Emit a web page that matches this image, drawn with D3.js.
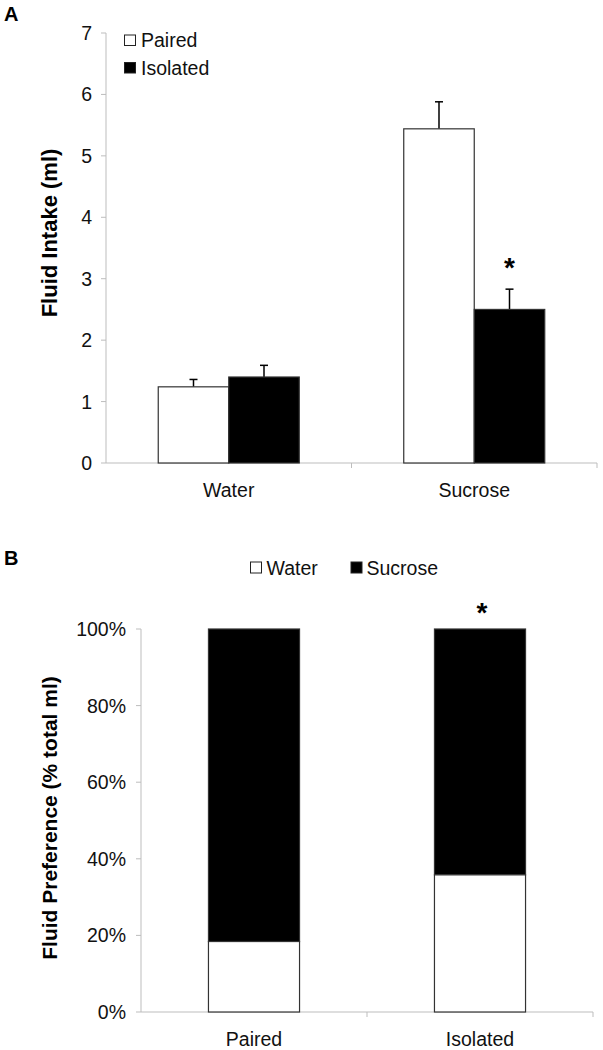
<!DOCTYPE html>
<html><head><meta charset="utf-8">
<script src="https://cdn.jsdelivr.net/npm/d3@7"></script>
<style>body{margin:0;background:#fff}svg{display:block;font-family:"Liberation Sans",Arial,sans-serif}</style>
</head><body><svg id="c" width="603" height="1050"></svg>
<script>
// Panel A data
const categoriesA = ["Water", "Sucrose"];
const seriesA = ["Paired", "Isolated"];
const pairedMean = [1.24, 5.44];
const pairedErr = [0.12, 0.44];
const isolatedMean = [1.40, 2.50];
const isolatedErr = [0.19, 0.33];
const ticksA = [0, 1, 2, 3, 4, 5, 6, 7];
// Panel B data
const groupsB = ["Paired", "Isolated"];
const waterPct = [0.184, 0.358];
const sucrosePct = [0.816, 0.642];
const ticksB = [0, 0.2, 0.4, 0.6, 0.8, 1.0];

const svg = d3.select("#c");
const axisColor = "#bdbdbd";
const barStroke = "#333";
const fs = 19.5;

// ---------- Panel A ----------
const yA = d3.scaleLinear().domain([0, 7]).range([463, 33]);
const x0A = d3.scaleBand().domain(categoriesA).range([106, 597]).padding(0);
const x1A = d3.scaleBand().domain(seriesA).range([0, x0A.bandwidth()]).paddingInner(0).paddingOuter(0.741);
const gA = svg.append("g");
svg.append("text").attr("x", 4).attr("y", 21).attr("font-weight", "bold").attr("font-size", 20).text("A");

gA.append("line").attr("x1", 106).attr("x2", 106).attr("y1", yA(7)).attr("y2", yA(0)).attr("stroke", axisColor);
gA.append("line").attr("x1", 106).attr("x2", 597).attr("y1", yA(0)).attr("y2", yA(0)).attr("stroke", axisColor);
ticksA.forEach(t => {
  gA.append("line").attr("x1", 101).attr("x2", 106).attr("y1", yA(t)).attr("y2", yA(t)).attr("stroke", axisColor);
  gA.append("text").attr("x", 92).attr("y", yA(t)).attr("dy", "0.36em").attr("text-anchor", "end").attr("font-size", fs).attr("fill", "#111").text(t);
});
[x0A.range()[0] + x0A.step(), x0A.range()[1]].forEach(x => {
  gA.append("line").attr("x1", x).attr("x2", x).attr("y1", yA(0)).attr("y2", yA(0) + 5).attr("stroke", axisColor);
});
categoriesA.forEach(c => {
  gA.append("text").attr("x", x0A(c) + x0A.bandwidth() / 2).attr("y", 497).attr("text-anchor", "middle").attr("font-size", fs).attr("fill", "#111").text(c);
});
gA.append("text").attr("transform", "translate(57,233) rotate(-90)").attr("text-anchor", "middle").attr("font-weight", "bold").attr("font-size", 22).text("Fluid Intake (ml)");

const dataA = [];
categoriesA.forEach((c, i) => {
  dataA.push({cat: c, ser: "Paired", v: pairedMean[i], e: pairedErr[i], fill: "#fff"});
  dataA.push({cat: c, ser: "Isolated", v: isolatedMean[i], e: isolatedErr[i], fill: "#000"});
});
dataA.forEach(d => {
  const x = x0A(d.cat) + x1A(d.ser);
  const w = x1A.bandwidth();
  const cx = x + w / 2;
  gA.append("line").attr("x1", cx).attr("x2", cx).attr("y1", yA(d.v)).attr("y2", yA(d.v + d.e)).attr("stroke", "#000").attr("stroke-width", 1.5);
  gA.append("line").attr("x1", cx - 4).attr("x2", cx + 4).attr("y1", yA(d.v + d.e)).attr("y2", yA(d.v + d.e)).attr("stroke", "#000").attr("stroke-width", 1.5);
  gA.append("rect").attr("x", x).attr("y", yA(d.v)).attr("width", w).attr("height", yA(0) - yA(d.v)).attr("fill", d.fill).attr("stroke", barStroke).attr("stroke-width", 1.2);
});
{
  const x = x0A("Sucrose") + x1A("Isolated") + x1A.bandwidth() / 2;
  gA.append("text").attr("x", x).attr("y", yA(2.5 + 0.33) - 12).attr("text-anchor", "middle").attr("font-size", 28).attr("font-weight", "bold").text("*");
}
seriesA.forEach((s, i) => {
  const y = 35 + i * 27.5;
  gA.append("rect").attr("x", 124.5).attr("y", y).attr("width", 11).attr("height", 10.5).attr("fill", i === 0 ? "#fff" : "#000").attr("stroke", "#222").attr("stroke-width", 1);
  gA.append("text").attr("x", 141).attr("y", y + 12).attr("font-size", fs).attr("fill", "#111").text(s);
});

// ---------- Panel B ----------
const yB = d3.scaleLinear().domain([0, 1]).range([1012, 629]);
const xB = d3.scaleBand().domain(groupsB).range([141, 593]).padding(0);
const gB = svg.append("g");
svg.append("text").attr("x", 4).attr("y", 565).attr("font-weight", "bold").attr("font-size", 20).text("B");
gB.append("line").attr("x1", 141).attr("x2", 141).attr("y1", yB(1)).attr("y2", yB(0)).attr("stroke", axisColor);
gB.append("line").attr("x1", 141).attr("x2", 593).attr("y1", yB(0)).attr("y2", yB(0)).attr("stroke", axisColor);
ticksB.forEach(t => {
  gB.append("line").attr("x1", 136).attr("x2", 141).attr("y1", yB(t)).attr("y2", yB(t)).attr("stroke", axisColor);
  gB.append("text").attr("x", 126).attr("y", yB(t)).attr("dy", "0.36em").attr("text-anchor", "end").attr("font-size", fs).attr("fill", "#111").text(d3.format(".0%")(t));
});
[141 + xB.step(), 593].forEach(x => {
  gB.append("line").attr("x1", x).attr("x2", x).attr("y1", yB(0)).attr("y2", yB(0) + 5).attr("stroke", axisColor);
});
groupsB.forEach(g => {
  gB.append("text").attr("x", xB(g) + xB.bandwidth() / 2).attr("y", 1046).attr("text-anchor", "middle").attr("font-size", fs).attr("fill", "#111").text(g);
});
gB.append("text").attr("transform", "translate(57,818) rotate(-90)").attr("text-anchor", "middle").attr("font-weight", "bold").attr("font-size", 21).text("Fluid Preference (% total ml)");

groupsB.forEach((g, i) => {
  const w = xB.bandwidth() * 0.403;
  const x = xB(g) + (xB.bandwidth() - w) / 2;
  gB.append("rect").attr("x", x).attr("y", yB(waterPct[i] + sucrosePct[i])).attr("width", w).attr("height", yB(waterPct[i]) - yB(waterPct[i] + sucrosePct[i])).attr("fill", "#000").attr("stroke", barStroke).attr("stroke-width", 1.2);
  gB.append("rect").attr("x", x).attr("y", yB(waterPct[i])).attr("width", w).attr("height", yB(0) - yB(waterPct[i])).attr("fill", "#fff").attr("stroke", barStroke).attr("stroke-width", 1.2);
});
gB.append("text").attr("x", xB("Isolated") + xB.bandwidth() / 2 + 2).attr("y", 622).attr("text-anchor", "middle").attr("font-size", 28).attr("font-weight", "bold").text("*");

const legB = [["Water", "#fff", 250.5, 266.5], ["Sucrose", "#000", 351, 366.5]];
legB.forEach(([t, f, sx, tx]) => {
  gB.append("rect").attr("x", sx).attr("y", 562).attr("width", 11).attr("height", 11).attr("fill", f).attr("stroke", "#222").attr("stroke-width", 1);
  gB.append("text").attr("x", tx).attr("y", 574.5).attr("font-size", fs).attr("fill", "#111").text(t);
});
</script></body></html>
